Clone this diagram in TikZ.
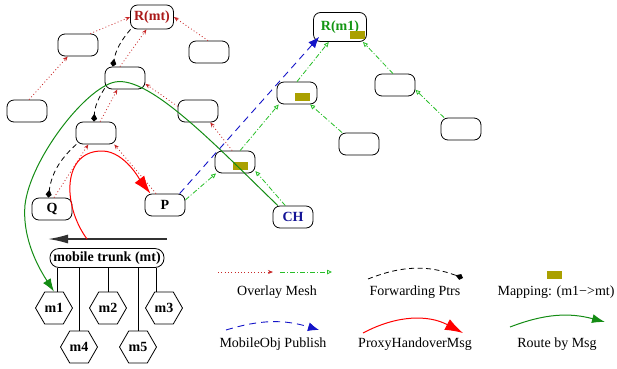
\documentclass[tikz,border=0pt]{standalone}
\usepackage{fontspec}
\setmainfont{Liberation Serif}
\usetikzlibrary{arrows.meta,shapes.geometric,calc}
\definecolor{meshred}{RGB}{200,40,40}
\definecolor{rmtred}{RGB}{170,25,25}
\definecolor{meshgreen}{RGB}{40,190,40}
\definecolor{rgreen}{RGB}{20,150,20}
\definecolor{routegreen}{RGB}{20,140,20}
\definecolor{pubblue}{RGB}{20,20,200}
\definecolor{chblue}{RGB}{20,20,150}
\definecolor{olivebox}{RGB}{170,160,0}
\definecolor{trunkgray}{RGB}{50,50,50}
\begin{document}
\begin{tikzpicture}[x=1pt,y=-1pt,
  box/.style={draw=black,line width=0.8pt,rounded corners=7pt,minimum width=40pt,minimum height=22pt,inner sep=0pt,font=\fontsize{14}{16}\selectfont\bfseries},
  hexa/.style={draw=black,line width=0.8pt,regular polygon,regular polygon sides=6,minimum size=37pt,inner sep=0pt,font=\fontsize{14}{16}\selectfont\bfseries},
  trunkbox/.style={draw=black,line width=0.8pt,rounded corners=9pt,minimum width=114pt,minimum height=19pt,inner sep=0pt,font=\fontsize{14}{16}\selectfont\bfseries},
  mapbox/.style={fill=olivebox,minimum width=15pt,minimum height=8pt,inner sep=0pt},
  meshr/.style={draw=meshred,line width=0.8pt,dash pattern=on 0.9pt off 2.4pt,-{Stealth[length=5pt,width=4pt]}},
  meshg/.style={draw=meshgreen,line width=0.8pt,dash pattern=on 5pt off 2pt on 1pt off 2pt,-{Triangle[open,length=5pt,width=4.5pt]}},
  fwd/.style={draw=black,line width=0.8pt,dash pattern=on 5pt off 3.5pt,-{Kite[length=8pt,width=6pt,inset=5pt]}},
  pub/.style={draw=pubblue,line width=0.9pt,dash pattern=on 7pt off 5pt,-{Latex[length=11pt,width=9pt]}},
  handover/.style={draw=red,line width=1pt,-{Latex[length=18pt,width=12pt]}},
  route/.style={draw=routegreen,line width=1pt,-{Latex[length=13pt,width=9pt]}},
  trunkarrow/.style={draw=trunkgray,line width=1.5pt,-{Latex[length=20pt,width=9pt]}},
  legtext/.style={font=\fontsize{14}{16}\selectfont,inner sep=0pt}
]
\useasboundingbox (0,0) rectangle (617,368);

% boxes
\node[box,minimum width=43pt,minimum height=24pt,text=rmtred] (Rmt) at (152,17) {R(mt)};
\node[box] (a) at (78,45) {};
\node[box] (b) at (209,52) {};
\node[box] (c) at (125,78) {};
\node[box] (d) at (27,111) {};
\node[box] (e) at (198,111) {};
\node[box] (f) at (96,133) {};
\node[box] (g) at (235,162) {};
\node[box] (Q) at (52,209) {Q};
\node[box] (P) at (165,205) {P};
\node[box,text=chblue] (CH) at (293,217) {CH};
\node[box,minimum width=53pt,minimum height=29pt,text=rgreen] (Rm1) at (340,27) {R(m1)};
\node[box] (h) at (297,93) {};
\node[box] (i) at (395,85) {};
\node[box] (j) at (359,144) {};
\node[box] (k) at (461,129) {};

% mapping marks
\node[mapbox] (mapR) at ($(Rm1)+(17.5,8)$) {};
\node[mapbox] (mapH) at ($(h)+(5.5,4)$) {};
\node[mapbox] (mapG) at ($(g)+(5.5,4)$) {};

% mobile trunk
\node[trunkbox] (trunk) at (107,258) {mobile trunk (mt)};
\node[hexa] (m1) at (54,308) {m1};
\node[hexa] (m2) at (108,308) {m2};
\node[hexa] (m3) at (164,308) {m3};
\node[hexa] (m4) at (79,347) {m4};
\node[hexa] (m5) at (138,347) {m5};
\foreach \m/\dx in {m1/3,m2/0,m3/-8,m4/0,m5/0}{
  \draw[line width=0.8pt] ($(\m.north)+(\dx,0)$) coordinate (tmp) -- (tmp |- trunk.south);
}
\coordinate (ta) at (167,239);
\coordinate (tb) at (48,239);
\draw[trunkarrow] (ta) -- (tb);

% overlay mesh red
\draw[meshr] (d.80) -- (a.228);
\draw[meshr] (a.43) -- (Rmt.west);
\draw[meshr] (b.95) -- (Rmt.east);
\draw[meshr] (c.114) -- (Rmt.246);
\draw[meshr] (e.167) -- (c.344);
\draw[meshr] (f.70) -- (c.236);
\draw[meshr] (g.104) -- (e.317);
\draw[meshr] (Q.80) -- (f.236);
\draw[meshr] (P.128) -- (f.328);

% overlay mesh green
\draw[meshg] (P.14) -- (g.211);
\draw[meshg] (CH.124) -- (g.336);
\draw[meshg] (g.66) -- (h.212);
\draw[meshg] (h.north) -- (Rm1.233);
\draw[meshg] (j.146) -- (h.319);
\draw[meshg] (i.100) -- (Rm1.327);
\draw[meshg] (k.146) -- (i.347);

% publish
\draw[pub] (P.38) -- ($(Rm1.south west)+(6,-5)$);

% forwarding
\draw[fwd] (Rmt.210) to[bend right=15] (c.137);
\draw[fwd] (c.207) to[bend right=15] (f.100);
\draw[fwd] (f.210) to[bend right=20] (Q.108);

% handover
\coordinate (hs) at (87,239);
\draw[handover] (hs) .. controls (62,205) and (62,150) .. (103,151) .. controls (125,152) and (140,180) .. (P.142);

% route
\draw[route] (CH.143) .. controls (220,150) and (150,75) .. (115,82) .. controls (85,88) and (30,160) .. (25,205) .. controls (22,240) and (40,270) .. (m1.north);

% legend
\coordinate (l1a) at (218,272); \coordinate (l1b) at (273,272);
\coordinate (l2a) at (280,272); \coordinate (l2b) at (332,272);
\draw[meshr] (l1a) -- (l1b);
\draw[meshg] (l2a) -- (l2b);
\node[legtext] (lt1) at (277,292) {Overlay Mesh};
\coordinate (l3a) at (368,279); \coordinate (l3b) at (463,278);
\draw[fwd] (l3a) to[bend left=21] (l3b);
\node[legtext] (lt2) at (415,292) {Forwarding Ptrs};
\node[mapbox] (lm) at (554.5,275) {};
\node[legtext] (lt3) at (556,292) {Mapping: (m1−>mt)};
\coordinate (l4a) at (226,330); \coordinate (l4b) at (319,330);
\draw[pub] (l4a) to[bend left=17] (l4b);
\node[legtext] (lt4) at (273,344) {MobileObj Publish};
\coordinate (l5a) at (363,333); \coordinate (l5b) at (463,333);
\draw[handover] (l5a) to[bend left=28] (l5b);
\node[legtext] (lt5) at (415,344) {ProxyHandoverMsg};
\coordinate (l6a) at (510,327); \coordinate (l6b) at (605,322);
\draw[route] (l6a) to[bend left=18] (l6b);
\node[legtext] (lt6) at (557,344) {Route by Msg};
\end{tikzpicture}
\end{document}
